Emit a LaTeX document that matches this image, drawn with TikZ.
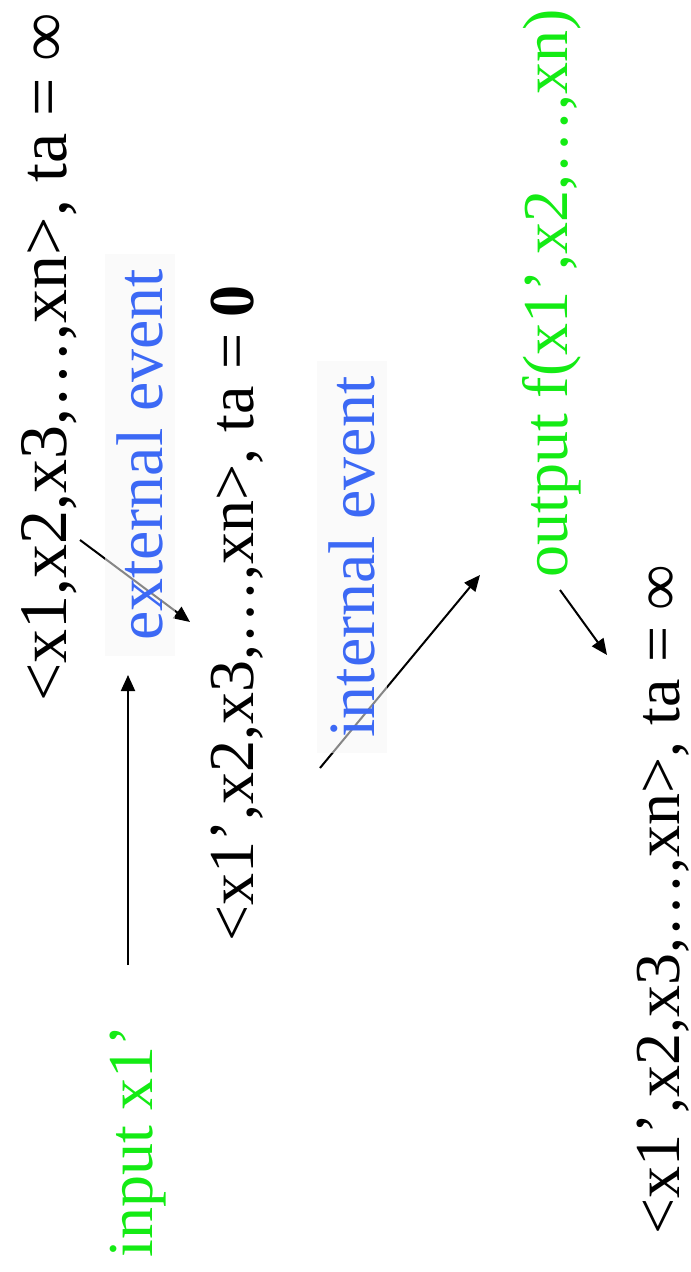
\documentclass[tikz,border=0pt]{standalone}
\usepackage{fontspec}
\setmainfont{Liberation Serif}
\usepackage{xcolor}
\usepackage{tikz}
\usetikzlibrary{arrows.meta, positioning}

\definecolor{evblue}{RGB}{60,105,245}
\definecolor{iogreen}{RGB}{20,235,20}

\begin{document}
\begin{tikzpicture}[
          x=0.5pt, y=-0.5pt,
          state/.style={rotate=90, anchor=base west, inner sep=0pt, font=\fontsize{32}{38}\selectfont},
          iolabel/.style={rotate=90, anchor=base west, inner sep=0pt, text=iogreen, font=\fontsize{32}{38}\selectfont},
          evlabel/.style={rotate=90, anchor=center, text=evblue, font=\fontsize{33}{40}\selectfont,
            fill=black!4, fill opacity=0.55, text opacity=1, inner xsep=7.5pt, inner ysep=6pt},
          trans/.style={-{Triangle[length=8pt,width=7pt]}, line width=1pt}
        ]
          \useasboundingbox (0,0) rectangle (690,1272);

          % states
          \node[state, font=\fontsize{34}{40}\selectfont] (s1) at (66,702) {<x1,x2,x3,…,xn>, ta = ∞};
          \node[state] (s2) at (253,942) {<x1’,x2,x3,…,xn>, ta = \textbf{0}};
          \node[state] (s3) at (679,1235) {<x1’,x2,x3,…,xn>, ta = ∞};

          % input / output
          \node[iolabel] (inp) at (152,1258) {input x1’};
          \node[iolabel] (outp) at (567,578) {output f(x1’,x2,…,xn)};

          % arrow ends
          \coordinate (ext-a) at (80,540);
          \coordinate (ext-b) at (190,622);
          \coordinate (int-a) at (320,768);
          \coordinate (int-b) at (480,575);
          \coordinate (out-a) at (560,590);
          \coordinate (out-b) at (607,655);
          \coordinate (inp-a) at (128,965);
          \coordinate (inp-b) at (128,675);

          \draw[trans] (ext-a) -- (ext-b);
          \draw[trans] (int-a) -- (int-b);
          \draw[trans] (out-a) -- (out-b);
          \draw[trans] (inp-a) -- (inp-b);

          % event labels over the arrows
          \node[evlabel] (ext) at (140,455) {external event};
          \node[evlabel] (int) at (352,557) {internal event};
        \end{tikzpicture}
\end{document}
